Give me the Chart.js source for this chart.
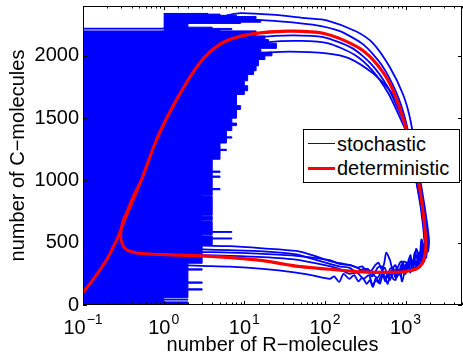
<!DOCTYPE html>
<html>
<head>
<meta charset="utf-8">
<script src="https://cdn.jsdelivr.net/npm/chart.js@4.4.1/dist/chart.umd.min.js"></script>
<style>
  body { margin: 0; background: #fff; }
  #wrap { position: relative; width: 463px; height: 357px; }
  #legend {
    position: absolute; left: 303px; top: 129px; width: 155px; height: 52px;
    border: 1px solid #000; background: #fff;
    font: 20px "Liberation Sans", Arial, sans-serif; color: #000;
  }
  .row { position: absolute; left: 0; height: 24px; line-height: 24px; }
  .row span.ln { position: absolute; left: 4px; width: 27px; }
  .row span.tx { position: absolute; left: 33px; white-space: nowrap; }
</style>
</head>
<body>
<div id="wrap">
  <canvas id="cv" width="463" height="357"></canvas>
  <div id="legend">
    <div class="row" style="top:2px"><span class="ln" style="top:11px;height:1px;background:#0000ff"></span><span class="tx">stochastic</span></div>
    <div class="row" style="top:26px"><span class="ln" style="top:11px;height:3px;background:#ff0000"></span><span class="tx">deterministic</span></div>
  </div>
</div>
<script>
// axis ticks
const xDecades = [-1, 0, 1, 2, 3];
const yTicks = [0, 500, 1000, 1500, 2000];

// deterministic trajectory [R, C]
const detPath = [
  [0.1,100],[0.134,205],[0.197,365],[0.262,525],[0.331,686],[0.42,847],[0.533,1007],
  [0.818,1328],[1.45,1649],[2.82,1944],[4.98,2090],[8.8,2154],[17,2185],[36.6,2198],
  [95,2180],[245,2075],[395,1966],[635,1778],[930,1500],[1200,1220],[1430,1007],
  [1650,740],[1760,560],[1780,470],[1720,390],[1600,330],[1365,290],[1000,268],
  [771,262],[500,261],[297,264],[180,275],[115,286],[70,298],[44,311],[17,355],
  [6.6,380],[2.5,395],[0.9,405],[0.6,412],[0.45,420],[0.38,432],[0.34,448],
  [0.316,472],[0.3,510],[0.293,552],[0.297,600],[0.302,632],[0.32,690],[0.348,740],
  [0.39,820],[0.44,900],[0.54,1015],[0.83,1340],[1.47,1658],[2.85,1950],[5,2094],
  [8.8,2157],[17,2188],[36.6,2200],[95,2182],[245,2077],[395,1968],[635,1780],
  [930,1502],[1200,1222],[1430,1009],[1650,742],[1760,562],[1780,472],[1720,392],
  [1600,332],[1365,292],[1000,270],[771,264],[297,266],[115,288],[44,313],[17,357],
  [6.6,382],[2.5,397],[0.9,407]
];

// stochastic runs [R, C]
const runA = [
  [6,2325],[9,2343],[22,2330],[58,2302],[105,2285],[245,2195],[395,2100],[635,1910],
  [930,1690],[1150,1480],[1450,1080],[1750,760],[1950,520],[1900,430],[1850,470],
  [1800,380],[1750,420],[1700,350],[1650,430],[1600,330],[1550,390],[1500,310],
  [1400,360],[1300,280],[1200,340],[1150,260],[1050,320],[1000,250],[920,300],
  [870,230],[800,290],[750,220],[700,270],[640,200],[600,260],[560,190],[520,240],
  [480,170],[430,220],[393,145],[360,200],[330,170],[290,220],[260,190],[230,240],
  [200,210],[170,250],[150,185],[130,230],[115,210],[70,238],[44,260],[17,290],
  [6.6,308],[3,314],[2,318]
];
const runB = [
  [5,2290],[12,2290],[30,2275],[70,2250],[150,2200],[300,2090],[500,1930],[760,1710],
  [1000,1480],[1380,1060],[1700,760],[1880,500],[1850,430],[1800,480],[1750,527],
  [1700,450],[1650,400],[1600,480],[1570,460],[1500,380],[1450,350],[1380,440],
  [1300,420],[1250,360],[1200,320],[1150,400],[1100,370],[1020,300],[950,280],
  [900,350],[850,340],[780,290],[700,270],[640,360],[575,420],[540,330],[500,290],
  [460,340],[420,320],[380,280],[330,270],[290,310],[250,300],[210,320],[170,330],
  [115,353],[70,400],[44,434],[17,455],[6.6,472],[3,476],[2,480]
];
const runC = [
  [7,2110],[15,2150],[40,2165],[95,2150],[220,2060],[380,1930],[600,1750],[880,1520],
  [1000,1440],[1350,1050],[1620,760],[1780,500],[1800,400],[1750,440],[1700,350],
  [1650,410],[1600,390],[1520,330],[1450,300],[1380,380],[1300,420],[1250,330],
  [1180,360],[1100,300],[1020,340],[950,350],[880,280],[800,250],[750,320],[700,300],
  [650,250],[600,230],[550,300],[500,270],[450,220],[400,240],[350,280],[300,290],
  [250,260],[200,300],[150,310],[115,330],[70,370],[44,407],[17,430],[6.6,440],
  [3,446],[2,450]
];
const runD = [
  [8,2060],[20,2110],[50,2120],[110,2100],[230,2010],[390,1880],[610,1700],[870,1490],
  [1000,1400],[1330,1020],[1580,760],[1740,500],[1720,420],[1650,480],[1570,527],
  [1520,430],[1480,380],[1420,420],[1350,450],[1300,360],[1250,310],[1170,370],
  [1100,340],[1050,290],[1000,260],[940,330],[880,320],[820,250],[760,220],[700,300],
  [640,290],[590,220],[540,240],[500,310],[450,300],[410,250],[380,230],[340,290],
  [300,270],[250,300],[200,320],[150,330],[115,360],[44,395],[17,410],[6.6,421],
  [3,425],[2,428]
];
const runE = [
  [10,1990],[15.6,2020],[36.6,2034],[105,2020],[200,1980],[395,1859],[635,1724],
  [840,1590],[1000,1460],[1300,1060],[1550,770],[1720,500],[1680,450],[1650,420],
  [1600,480],[1550,350],[1500,420],[1450,400],[1380,290],[1320,350],[1250,360],
  [1200,300],[1150,270],[1080,340],[1000,320],[950,240],[900,190],[850,280],
  [800,260],[750,200],[700,210],[650,270],[600,170],[550,230],[500,240],[460,180],
  [430,200],[390,160],[350,240],[300,210],[250,260],[200,250],[150,290],[100,320],
  [44,365],[17,385],[6.6,395],[3,400],[2,402]
];

// runs hitting R = 0: band top C and max R reached in that band
const zeroC = [0,25,40,46,58,120,130,175,185,280,290,335,345,480,530,538,555,565,583,590,
  670,680,712,720,872,880,925,935,1025,1035,1065,1075,1170,1200,1240,1250,1300,1340,
  1350,1400,1440,1460,1500,1570,1600,1690,1720,1760,1800,1850,1880,1920,1970,2000,
  2030,2060,2100,2130,2160,2200,2215,2228];
const zeroR = [2,2,1,2,1,2,3,2,3,2,3,2,3,3,4,7,4,3,4,7,
  4,3,4,3,4,3,4,5,4,5,4,5,4,5,5,6,5,6,
  7,6,7,8,7,8,9,8,10,11,10,11,13,14,15,18,
  22,16,25,20,18,14,0.1,1];
// runs near the peak that stay at R >= 1
const peakC = [2200,2210,2220,2230,2240,2260,2270,2285,2300,2315,2325,2335,2345];
const peakR = [5,5,7,4,2,2,9,16,12,14,8,5,3.5];

const toPts = arr => arr.map(p => ({x: p[0], y: p[1]}));
const zip = (cs, rs) => cs.map((c, i) => ({x: rs[i], y: c}));

function isDecade(v) {
  const l = Math.log10(v);
  return Math.abs(l - Math.round(l)) < 1e-6;
}

const FONT = '"Liberation Sans", Arial, sans-serif';
Chart.defaults.font.family = FONT;
Chart.defaults.color = '#000';

const blueRun = (arr) => ({
  data: toPts(arr), borderColor: '#0000ff', borderWidth: 1.8,
  pointRadius: 0, fill: false, tension: 0.25
});

// frame, inward ticks and x labels like the original figure
const frame = {
  id: 'frame',
  afterDatasetsDraw(chart) {
    const {ctx, chartArea: a, scales: {x, y}} = chart;
    ctx.save();
    ctx.strokeStyle = '#000';
    ctx.lineWidth = 1;
    ctx.beginPath();
    x.ticks.forEach(t => {
      const px = Math.round(x.getPixelForValue(t.value)) + 0.5;
      const len = isDecade(t.value) ? 4 : 2.5;
      ctx.moveTo(px, a.bottom); ctx.lineTo(px, a.bottom - len);
      ctx.moveTo(px, a.top); ctx.lineTo(px, a.top + len);
    });
    yTicks.forEach(v => {
      const py = Math.round(y.getPixelForValue(v)) + 0.5;
      ctx.moveTo(a.left, py); ctx.lineTo(a.left + 4, py);
      ctx.moveTo(a.right, py); ctx.lineTo(a.right - 4, py);
    });
    ctx.stroke();
    ctx.strokeRect(a.left + 0.5, a.top + 0.5, a.width - 1, a.height - 1);

    // x labels 10^k
    ctx.fillStyle = '#000';
    ctx.textAlign = 'left';
    ctx.textBaseline = 'alphabetic';
    xDecades.forEach(k => {
      const px = x.getPixelForValue(Math.pow(10, k));
      const sup = k < 0 ? '\u2212' + (-k) : String(k);
      ctx.font = '20px ' + FONT;
      const wb = ctx.measureText('10').width;
      ctx.font = '14px ' + FONT;
      const ws = ctx.measureText(sup).width;
      const x0 = px - (wb + ws + 1) / 2;
      ctx.font = '20px ' + FONT;
      ctx.fillText('10', x0, a.bottom + 29);
      ctx.font = '14px ' + FONT;
      ctx.fillText(sup, x0 + wb + 1, a.bottom + 19);
    });
    ctx.restore();
  }
};

new Chart(document.getElementById('cv'), {
  type: 'line',
  data: {
    datasets: [
      { data: toPts(detPath), borderColor: '#ff0000', borderWidth: 3, pointRadius: 0, fill: false, tension: 0.3 },
      blueRun(runA), blueRun(runB), blueRun(runC), blueRun(runD), blueRun(runE),
      { data: zip(peakC, peakR), indexAxis: 'y', stepped: 'before', borderColor: '#0000ff',
        borderWidth: 1, backgroundColor: '#0000ff', pointRadius: 0, fill: {value: 1} },
      { data: zip(zeroC, zeroR), indexAxis: 'y', stepped: 'before', borderColor: '#0000ff',
        borderWidth: 1, backgroundColor: '#0000ff', pointRadius: 0, fill: {value: 0.1} }
    ]
  },
  options: {
    responsive: false,
    animation: false,
    devicePixelRatio: 1,
    layout: { padding: { left: 0, right: 1, top: 6, bottom: 0 } },
    plugins: { legend: { display: false }, tooltip: { enabled: false } },
    scales: {
      x: {
        type: 'logarithmic', min: 0.1, max: 5000,
        grid: { display: false }, border: { display: false },
        ticks: { display: false },
        title: { display: true, text: 'number of R\u2212molecules', font: { size: 20 }, color: '#000', padding: { top: 0, bottom: 0 } },
        afterFit: s => { s.height = 52; s.paddingLeft = 0; s.paddingRight = 0; }
      },
      y: {
        type: 'linear', min: 0, max: 2400,
        grid: { display: false, drawTicks: false }, border: { display: false },
        afterBuildTicks: s => { s.ticks = yTicks.map(v => ({value: v})); },
        ticks: { padding: 4, font: { size: 20 }, color: '#000', callback: v => String(v) },
        title: { display: true, text: 'number of C\u2212molecules', font: { size: 20 }, color: '#000', padding: { top: 6, bottom: 0 } },
        afterFit: s => { s.width = 83; s.paddingTop = 0; s.paddingBottom = 0; }
      }
    }
  },
  plugins: [frame]
});
</script>
</body>
</html>
